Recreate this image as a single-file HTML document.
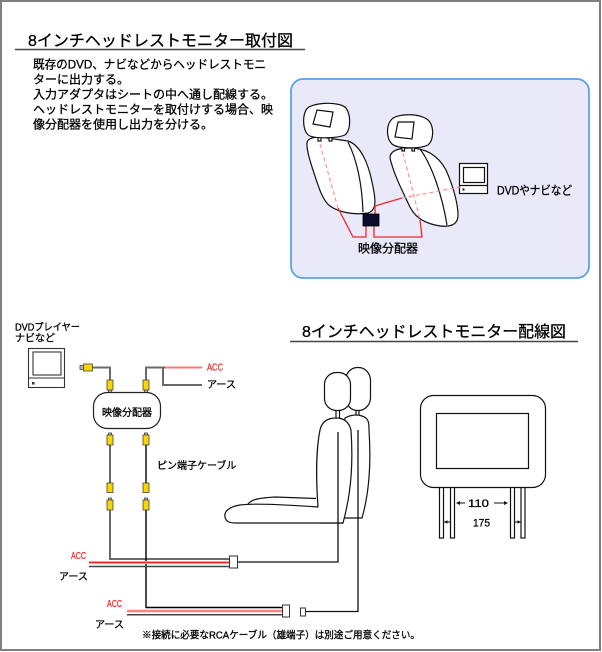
<!DOCTYPE html>
<html><head><meta charset="utf-8">
<style>
html,body{margin:0;padding:0;background:#fff;}
svg{display:block;}
text{font-family:"Liberation Sans","Noto Sans CJK JP",sans-serif;fill:#000;stroke:#000;stroke-width:0.3;}
text.red{fill:#ff1a1a;stroke:#ff1a1a;stroke-width:0.2;}
</style></head><body>
<svg width="602" height="652" viewBox="0 0 602 652" xmlns="http://www.w3.org/2000/svg">
<rect x="1" y="1" width="599" height="649" fill="#fff" stroke="#808080" stroke-width="2"/>

<!-- ===== TOP SECTION ===== -->
<text x="28" y="46" font-size="16" textLength="265" lengthAdjust="spacingAndGlyphs">8インチヘッドレストモニター取付図</text>
<line x1="15" y1="49.5" x2="305" y2="49.5" stroke="#444" stroke-width="1.5"/>

<g font-size="12">
<text x="33" y="68.5" textLength="233" lengthAdjust="spacingAndGlyphs">既存のDVD、ナビなどからヘッドレストモニ</text>
<text x="33" y="83.5">ターに出力する。</text>
<text x="33" y="98.5">入力アダプタはシートの中へ通し配線する。</text>
<text x="33" y="113.5">ヘッドレストモニターを取付けする場合、映</text>
<text x="33" y="128.5">像分配器を使用し出力を分ける。</text>
</g>

<!-- blue box -->
<rect x="291" y="79" width="298" height="199" rx="12" ry="12" fill="#e9e9f9" stroke="#5aa0ec" stroke-width="1.8"/>

<g stroke="#111" stroke-width="1.2" fill="#fff">
  <!-- left seat -->
  <path d="M307,145 C306,139 312,137 320,137 L348,141 C360,145 368,162 372,182 C376,200 377,210 368,213 C355,215 340,213 330,206 C322,200 318,185 313,170 C309,158 307,150 307,145 Z"/>
  <path d="M348,142 C357,160 362,185 363,212" fill="none"/>
  <rect x="318" y="134" width="3" height="7"/>
  <rect x="329" y="134" width="3" height="7"/>
  <path d="M310,136 C303,133 302,118 306,110 C310,102 340,101 346,108 C351,115 351,130 345,135 C338,138 318,139 310,136 Z"/>
  <polygon points="317,110 333,112 330,127 313,124"/>
  <!-- right seat -->
  <path d="M390,158 C390,151 398,148 410,148 C425,148 438,155 446,170 C454,188 458,205 458,215 C458,226 448,228 435,225 C422,222 414,216 409,205 C402,190 394,175 390,158 Z"/>
  <path d="M420,149 C432,165 442,195 447,225" fill="none"/>
  <rect x="402" y="145" width="2.5" height="6"/>
  <rect x="412" y="145" width="2.5" height="6"/>
  <path d="M392,144 C386,138 386,125 392,119 C398,113 422,113 429,121 C434,127 434,140 428,145 C420,149 398,149 392,144 Z"/>
  <polygon points="398,122 414,122 412,139 395,137"/>
  <!-- DVD monitor -->
  <rect x="459.5" y="163.5" width="28" height="30"/>
  <rect x="463.5" y="167.5" width="21" height="15"/>
  <line x1="459.5" y1="185.5" x2="487.5" y2="185.5"/>
</g>
<rect x="462.5" y="188.5" width="2" height="2" fill="#111"/>

<!-- dashed lines -->
<g stroke="#ff8a8a" stroke-width="1.1" stroke-dasharray="4 3" fill="none">
  <path d="M320,144 L338,208"/>
  <path d="M403,153 L420,220"/>
  <path d="M402,198 L460,187"/>
</g>
<!-- red solid -->
<g stroke="#ee2a2a" stroke-width="1.3" fill="none">
  <path d="M375,214 V206 L402,198"/>
  <path d="M338,208 L353,237 H366 V226"/>
  <path d="M374,226 V237 H422 L420,220"/>
</g>
<rect x="363" y="214" width="16" height="12" fill="#0b0b2a" stroke="#000" stroke-width="0.8"/>

<text x="358" y="252.5" font-size="12">映像分配器</text>
<text x="497" y="194.5" font-size="12" textLength="75" lengthAdjust="spacingAndGlyphs">DVDやナビなど</text>

<!-- ===== LOWER SECTION ===== -->
<text x="302" y="337" font-size="16" textLength="264" lengthAdjust="spacingAndGlyphs">8インチヘッドレストモニター配線図</text>
<line x1="290" y1="341.5" x2="578" y2="341.5" stroke="#444" stroke-width="1.5"/>

<text x="15" y="330.5" font-size="10" textLength="65" lengthAdjust="spacingAndGlyphs">DVDプレイヤー</text>
<text x="15" y="341.5" font-size="10">ナビなど</text>

<!-- left monitor -->
<g stroke="#333" stroke-width="1.1" fill="#fff">
  <rect x="28.5" y="348.5" width="36" height="39"/>
  <rect x="33" y="352" width="28" height="23"/>
  <line x1="28.5" y1="378" x2="64.5" y2="378"/>
</g>
<rect x="32" y="382" width="2.5" height="2.5" fill="#333"/>

<!-- cables top -->
<g fill="none" stroke-width="2">
  <path d="M92,367.5 H110 V381" stroke="#6a6a6a"/>
  <path d="M146,381 V367.5 H165" stroke="#6a6a6a"/>
  <path d="M165,367.5 H202" stroke="#ff7878"/>
  <path d="M163,367.5 V385 H202" stroke="#6a6a6a"/>
  <path d="M110,445 V483" stroke="#6a6a6a"/>
  <path d="M110,510 V559 H229" stroke="#6a6a6a"/>
</g>
<g fill="none" stroke="#000" stroke-width="1.4">
  <path d="M146,445 V483"/>
  <path d="M146,510 V607.5 H282"/>
</g>
<text class="red" x="207" y="370.5" font-size="10" textLength="16" lengthAdjust="spacingAndGlyphs">ACC</text>
<text x="207" y="388" font-size="10">アース</text>

<!-- plugs -->
<g stroke="#444" stroke-width="0.8">
  <rect x="80" y="365.5" width="3.5" height="4" fill="#bbb"/>
  <rect x="83.5" y="364" width="9" height="7" fill="#f5d800"/>
  <rect x="107" y="380" width="6" height="10" fill="#f5d800"/>
  <rect x="108.5" y="390" width="3" height="3" fill="#bbb"/>
  <rect x="143" y="380" width="6" height="10" fill="#f5d800"/>
  <rect x="144.5" y="390" width="3" height="3" fill="#bbb"/>

  <rect x="108.5" y="433" width="3" height="3" fill="#bbb"/>
  <rect x="107" y="435" width="6" height="10" fill="#f5d800"/>
  <rect x="144.5" y="433" width="3" height="3" fill="#bbb"/>
  <rect x="143" y="435" width="6" height="10" fill="#f5d800"/>

  <rect x="107" y="483" width="6" height="9.5" fill="#f5d800"/>
  <rect x="143" y="483" width="6" height="9.5" fill="#f5d800"/>
  <rect x="108.5" y="498" width="3" height="3" fill="#bbb"/>
  <rect x="107" y="500" width="6" height="10" fill="#f5d800"/>
  <rect x="144.5" y="498" width="3" height="3" fill="#bbb"/>
  <rect x="143" y="500" width="6" height="10" fill="#f5d800"/>
</g>

<!-- splitter -->
<rect x="93.5" y="392.5" width="67" height="36" rx="14" ry="14" fill="#fff" stroke="#222" stroke-width="1.2"/>
<text x="127" y="416" font-size="10" text-anchor="middle">映像分配器</text>

<text x="157" y="469" font-size="10">ピン端子ケーブル</text>

<!-- ACC / earth bundles -->
<path d="M89,562.5 H229" stroke="#ff9a9a" stroke-width="3" fill="none"/>
<path d="M89,562.5 H229" stroke="#ff2020" stroke-width="1" fill="none"/>
<path d="M89,566.5 H229" stroke="#444" stroke-width="1.5" fill="none"/>
<path d="M127,611 H282" stroke="#ff8080" stroke-width="2.5" fill="none"/>
<path d="M127,614.8 H282" stroke="#444" stroke-width="1.5" fill="none"/>

<text class="red" x="71" y="559" font-size="10" textLength="15" lengthAdjust="spacingAndGlyphs">ACC</text>
<text x="59" y="580" font-size="10">アース</text>
<text class="red" x="107" y="607" font-size="10" textLength="15" lengthAdjust="spacingAndGlyphs">ACC</text>
<text x="95" y="628" font-size="10">アース</text>

<!-- seats lower -->
<g stroke="#111" stroke-width="1.2" fill="#fff">
  <rect x="345.5" y="367.5" width="25" height="43" rx="12" ry="13"/>
  <line x1="356" y1="410" x2="356" y2="415"/>
  <line x1="359" y1="410" x2="359" y2="415"/>
  <path d="M345,418 C352,414 360,414 366,418 C369,421 369,425 369,430 C371,460 370,490 362,518 L340,518 Z"/>
  <rect x="324.5" y="372.5" width="26" height="38" rx="12" ry="12"/>
  <line x1="336" y1="410" x2="336" y2="419"/>
  <line x1="339.5" y1="410" x2="339.5" y2="419"/>
  <path d="M318,507 C316,480 316,450 320,430 C322,421 328,418 336,418 C344,418 349,422 351,430 C353,460 352,490 343,523 L320,523 Z"/>
  <path d="M318,507 C290,505 255,503 240,505 C228,507 224,512 225,517 C226,522 230,523 236,523 L343,523" />
  <path d="M248,504 C252,499 260,498 275,497 L316,498.5" fill="none"/>
</g>

<!-- cables into seats -->
<g fill="none" stroke="#111" stroke-width="1.3">
  <path d="M237,562 H338 V432"/>
  <path d="M305,611.5 H358 V430"/>
</g>
<g fill="#fff" stroke="#333" stroke-width="1">
  <rect x="229.5" y="556" width="8" height="12"/>
  <rect x="282.5" y="605" width="7" height="12"/>
  <rect x="300.5" y="608" width="5" height="8"/>
</g>

<!-- headrest monitor front view -->
<g stroke="#111" stroke-width="1.2" fill="#fff">
  <rect x="439.5" y="486" width="4" height="52"/>
  <rect x="450.5" y="486" width="4" height="52"/>
  <rect x="510.5" y="486" width="4" height="52"/>
  <rect x="521" y="486" width="4" height="52"/>
  <rect x="420.5" y="395.5" width="125" height="92" rx="13" ry="13"/>
  <rect x="436.5" y="413.5" width="92" height="55"/>
</g>
<g stroke="#111" stroke-width="1" fill="none">
  <line x1="457" y1="503" x2="465" y2="503"/>
  <line x1="494" y1="503" x2="507" y2="503"/>
  <line x1="444" y1="522" x2="450" y2="522"/>
  <line x1="515" y1="522" x2="521" y2="522"/>
</g>
<g fill="#111">
  <polygon points="456,503 460,501 460,505"/>
  <polygon points="508,503 504,501 504,505"/>
  <polygon points="444,522 447.5,520.3 447.5,523.7"/>
  <polygon points="521,522 517.5,520.3 517.5,523.7"/>
</g>
<text x="468" y="507" font-size="11" textLength="21" lengthAdjust="spacingAndGlyphs">110</text>
<text x="473" y="526.5" font-size="11" textLength="17" lengthAdjust="spacingAndGlyphs">175</text>

<text x="142" y="638.5" font-size="10" textLength="278" lengthAdjust="spacingAndGlyphs">※接続に必要なRCAケーブル（雄端子）は別途ご用意ください。</text>
</svg>
</body></html>
